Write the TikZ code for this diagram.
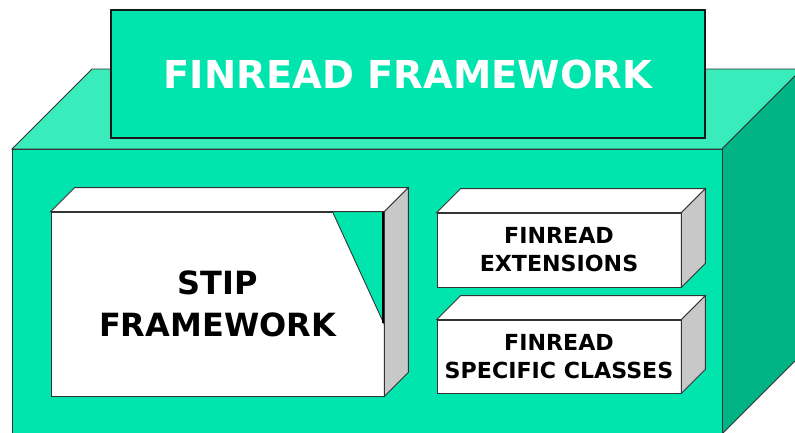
\documentclass[tikz,border=0pt]{standalone}
\usepackage{fontspec}
\setmainfont{DejaVu Sans}
\usetikzlibrary{calc}
\definecolor{mintfront}{RGB}{0,228,173}
\definecolor{minttop}{RGB}{56,236,188}
\definecolor{mintside}{RGB}{0,180,134}
\definecolor{slabside}{RGB}{200,200,200}

\begin{document}
\begin{tikzpicture}[x=0.02cm, y=-0.02cm,
    face/.style={draw=black!80, line width=0.5pt},
    slab/.style={face, fill=white, inner sep=0pt, align=center, font=\bfseries\fontsize{12.6}{16}\selectfont},
    title/.style={draw=black!90, line width=0.9pt, fill=mintfront, text=white,
                  minimum width=11.88cm, minimum height=2.56cm, font=\bfseries\fontsize{21.9}{26}\selectfont}
]
    \useasboundingbox (0,0) rectangle (795,433);
    \clip (0,0) rectangle (795,433);
    % outer block
    \coordinate (blk-tl) at (12,149);
    \coordinate (blk-tr) at (722,149);
    \coordinate (blk-br) at (722,434);
    \draw[face, fill=minttop] (blk-tl) -- ++(80,-80) -- ($(blk-tr)+(80,-80)$) -- (blk-tr) -- cycle;
    \draw[face, fill=mintside] (blk-tr) -- ++(80,-80) -- ($(blk-br)+(80,-80)$) -- (blk-br) -- cycle;
    \draw[face, fill=mintfront] (blk-tl) rectangle (blk-br);

    % title plate
    \node[title] (finread) at (408,74) {FINREAD FRAMEWORK};

    % inner slabs
    \node[slab, minimum width=6.66cm, minimum height=3.68cm, font=\bfseries\fontsize{18.2}{24}\selectfont] (stip) at (217.5,304) {STIP\\FRAMEWORK};
    \node[slab, minimum width=4.88cm, minimum height=1.48cm] (ext) at (559,250) {FINREAD\\EXTENSIONS};
    \node[slab, minimum width=4.88cm, minimum height=1.46cm] (spec) at (559,356.5) {FINREAD\\SPECIFIC CLASSES};

    \foreach \s in {stip,ext,spec} {
        \draw[face, fill=white] (\s.north west) -- ++(24,-24) -- ($(\s.north east)+(24,-24)$) -- (\s.north east) -- cycle;
        \draw[face, fill=slabside] (\s.north east) -- ++(24,-24) -- ($(\s.south east)+(24,-24)$) -- (\s.south east) -- cycle;
    }

    % folded corner of the stip slab
    \draw[face, fill=mintfront] ($(stip.north east)+(-52,0)$) -- ($(stip.north east)+(-1,0)$) -- ($(stip.north east)+(-1,111)$) -- cycle;
    \draw[line width=1.2pt] ($(stip.north east)+(-1,0)$) -- ++(0,111);
\end{tikzpicture}
\end{document}
